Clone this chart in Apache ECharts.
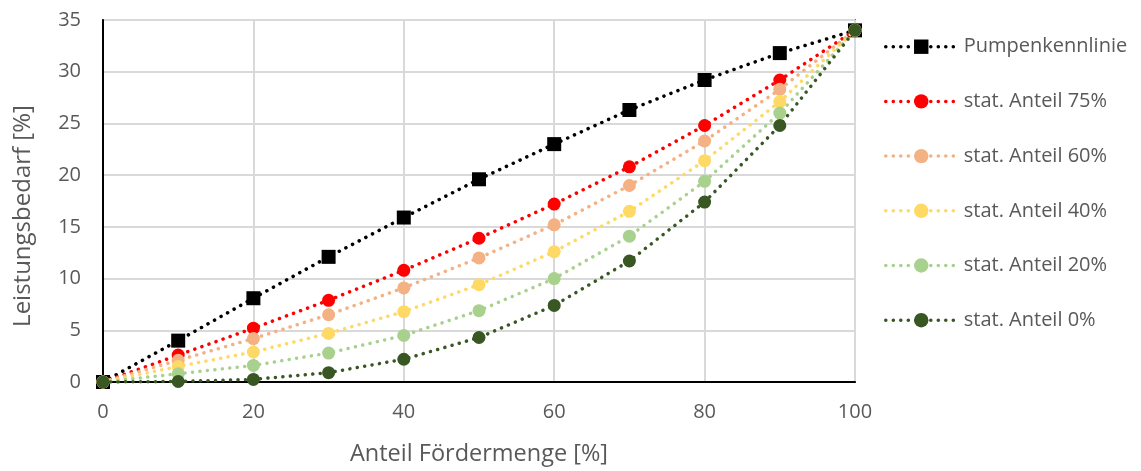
<!DOCTYPE html>
<html><head><meta charset="utf-8">
<script src="https://cdn.jsdelivr.net/npm/echarts@6/dist/echarts.min.js"></script>
<style>html,body{margin:0;padding:0;background:#fff}#c{width:1141px;height:471px}</style>
</head><body><div id="c"></div>
<script>
const xValues = [0, 10, 20, 30, 40, 50, 60, 70, 80, 90, 100];
const xTicks = [0, 20, 40, 60, 80, 100];
const yTicks = [0, 5, 10, 15, 20, 25, 30, 35];
const seriesNames = ['Pumpenkennlinie', 'stat. Anteil 75%', 'stat. Anteil 60%', 'stat. Anteil 40%', 'stat. Anteil 20%', 'stat. Anteil 0%'];
const pumpe = [0, 4.0, 8.1, 12.1, 15.9, 19.6, 23.0, 26.3, 29.2, 31.8, 34.0];
const anteil75 = [0, 2.6, 5.2, 7.9, 10.8, 13.9, 17.2, 20.8, 24.8, 29.2, 34.0];
const anteil60 = [0, 2.1, 4.2, 6.5, 9.1, 12.0, 15.2, 19.0, 23.3, 28.3, 34.0];
const anteil40 = [0, 1.5, 2.9, 4.7, 6.8, 9.4, 12.6, 16.5, 21.4, 27.1, 34.0];
const anteil20 = [0, 0.8, 1.6, 2.8, 4.5, 6.9, 10.0, 14.1, 19.4, 26.0, 34.0];
const anteil0 = [0, 0.05, 0.25, 0.9, 2.2, 4.3, 7.4, 11.7, 17.4, 24.8, 34.0];
const colors = ['#000000', '#ff0000', '#f4b183', '#ffd966', '#a9d18e', '#385723'];
const symbols = ['rect', 'circle', 'circle', 'circle', 'circle', 'circle'];
const allData = [pumpe, anteil75, anteil60, anteil40, anteil20, anteil0];

const FONT = 'Open Sans, Liberation Sans, sans-serif';
const chart = echarts.init(document.getElementById('c'), null, {renderer: 'canvas'});
chart.setOption({
  animation: false,
  backgroundColor: '#fff',
  grid: {left: 103, right: 286, top: 20, bottom: 87, show: true, borderColor: '#000', borderWidth: 1.5, containLabel: false},
  legend: {
    orient: 'vertical', left: 884, top: 36.7, itemWidth: 71, itemHeight: 18, itemGap: 34.7, padding: 0,
    lineStyle: {width: 3.5},
    textStyle: {fontFamily: FONT, fontSize: 20, lineHeight: 20, color: '#595959', padding: [0, 0, 0, 2]},
    data: seriesNames
  },
  xAxis: {
    type: 'value', min: 0, max: 100, interval: 20,
    name: 'Anteil Fördermenge [%]', nameLocation: 'middle', nameGap: 60,
    nameTextStyle: {fontFamily: FONT, fontSize: 23.5, color: '#595959'},
    axisLine: {show: true, lineStyle: {color: '#000', width: 2}},
    axisTick: {show: false},
    axisLabel: {fontFamily: FONT, fontSize: 20, color: '#595959', margin: 20,
      formatter: v => xTicks.includes(v) ? String(v) : ''},
    splitLine: {show: true, lineStyle: {color: '#d9d9d9', width: 2}}
  },
  yAxis: {
    type: 'value', min: 0, max: 35, interval: 5,
    name: 'Leistungsbedarf [%]', nameLocation: 'middle', nameGap: 68, nameRotate: 90,
    nameTextStyle: {fontFamily: FONT, fontSize: 24, color: '#595959', padding: [0, 30, 0, 0]},
    axisLine: {show: true, lineStyle: {color: '#000', width: 2}},
    axisTick: {show: false},
    axisLabel: {fontFamily: FONT, fontSize: 20, color: '#595959', margin: 22,
      formatter: v => yTicks.includes(v) ? String(v) : ''},
    splitLine: {show: true, lineStyle: {color: '#d9d9d9', width: 2}}
  },
  series: seriesNames.map((n, i) => ({
    name: n, type: 'line',
    data: xValues.map((x, k) => [x, allData[i][k]]),
    symbol: symbols[i], symbolSize: i === 0 ? 14 : 13,
    showAllSymbol: true,
    itemStyle: {color: colors[i], borderWidth: 0},
    lineStyle: {color: colors[i], width: 3.5, type: [0.1, 7.4], cap: 'round'},
    emphasis: {disabled: true},
    z: 2 + i
  }))
});
</script></body></html>
